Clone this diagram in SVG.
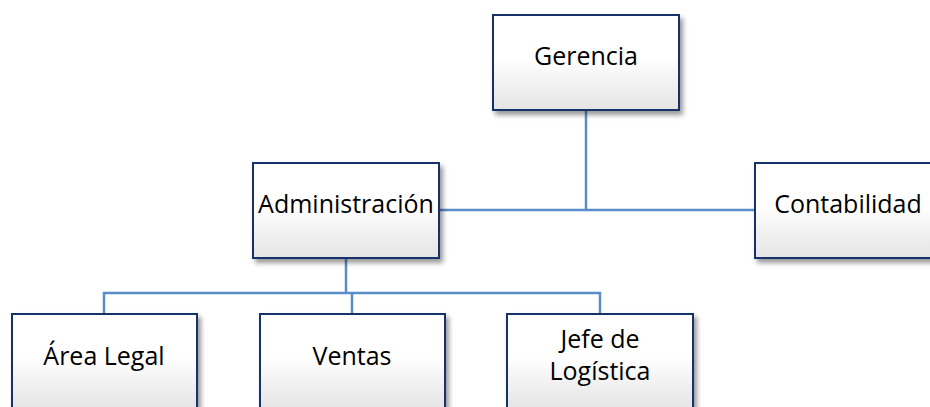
<svg xmlns="http://www.w3.org/2000/svg" width="930" height="407" viewBox="0 0 930 407">
<defs>
<linearGradient id="fillGrad" x1="0" y1="0" x2="0" y2="1">
<stop offset="0" stop-color="#ffffff"/>
<stop offset="0.45" stop-color="#ffffff"/>
<stop offset="1" stop-color="#e4e4e4"/>
</linearGradient>
<filter id="shadow" x="-10%" y="-10%" width="130%" height="130%">
<feDropShadow dx="3" dy="4" stdDeviation="2.5" flood-color="#000000" flood-opacity="0.4"/>
</filter>
</defs>
<style>
.box { fill: url(#fillGrad); stroke: #12306b; stroke-width: 2; filter: url(#shadow); }
.lbl { font-family: "Open Sans", "Liberation Sans", sans-serif; font-size: 25px; fill: #000000; text-anchor: middle; }
.conn { fill: none; stroke: #5a8dc5; stroke-width: 2.5; }
</style>
<rect width="930" height="407" fill="#ffffff"/>
<g id="connectors">
<path class="conn" d="M586,110 V210"/>
<path class="conn" d="M439,210 H755"/>
<path class="conn" d="M346,258 V293"/>
<path class="conn" d="M104,314 V293 H600 V314"/>
<path class="conn" d="M352,293 V314"/>
</g>
<g id="gerencia">
<rect class="box" x="493" y="15" width="186" height="95"/>
<text class="lbl" x="586" y="65">Gerencia</text>
</g>
<g id="administracion">
<rect class="box" x="253" y="163" width="186" height="95"/>
<text class="lbl" x="346" y="213">Administración</text>
</g>
<g id="contabilidad">
<rect class="box" x="755" y="163" width="186" height="95"/>
<text class="lbl" x="848" y="213">Contabilidad</text>
</g>
<g id="area-legal">
<rect class="box" x="12" y="314" width="185" height="95"/>
<text class="lbl" x="104" y="365">Área Legal</text>
</g>
<g id="ventas">
<rect class="box" x="260" y="314" width="185" height="95"/>
<text class="lbl" x="352" y="365">Ventas</text>
</g>
<g id="jefe-logistica">
<rect class="box" x="507" y="314" width="186" height="95"/>
<text class="lbl" x="600" y="348">Jefe de</text>
<text class="lbl" x="600" y="380">Logística</text>
</g>
</svg>
